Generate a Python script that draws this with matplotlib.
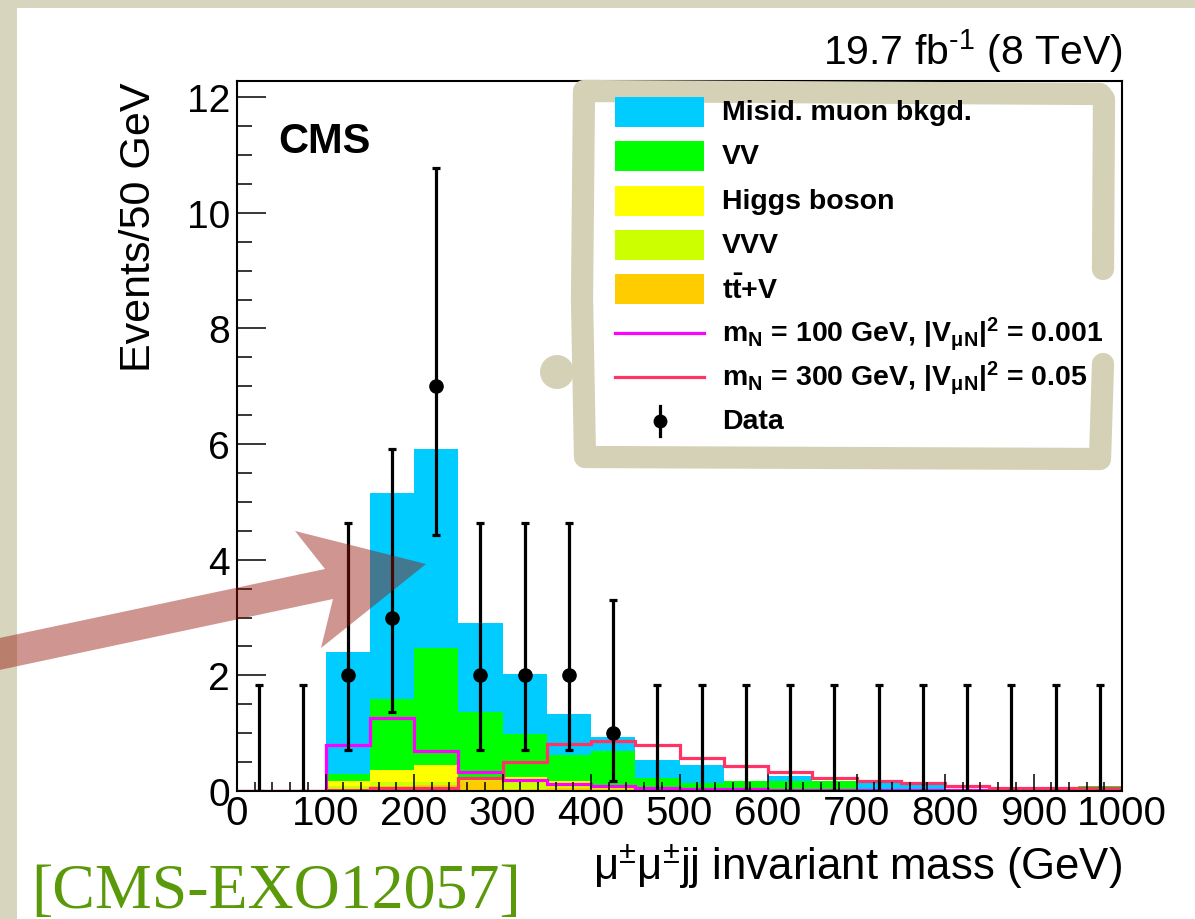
import numpy as np
import matplotlib.pyplot as plt
from matplotlib.patches import Rectangle, Polygon, Circle
from matplotlib.lines import Line2D
from matplotlib.ticker import MultipleLocator

plt.rcParams['font.family'] = ['Liberation Sans', 'DejaVu Sans']
plt.rcParams['mathtext.fontset'] = 'custom'
plt.rcParams['mathtext.rm'] = 'Liberation Sans'
plt.rcParams['mathtext.it'] = 'Liberation Sans:italic'
plt.rcParams['mathtext.bf'] = 'Liberation Sans:bold'
plt.rcParams['mathtext.default'] = 'regular'

# 50 GeV bins, 0 - 1000 GeV
bin_edges = np.arange(0, 1001, 50)
bin_centers = bin_edges[:-1] + 25

# stacked backgrounds (bottom -> top)
ttv   = [0, 0, 0.04, 0.08, 0.10, 0.18, 0.04, 0.05, 0.03, 0.02, 0.01, 0.01, 0.01, 0.01, 0, 0, 0, 0, 0, 0]
vvv   = [0, 0, 0.05, 0.07, 0.05, 0.02, 0.14, 0.07, 0.03, 0.02, 0.01, 0.01, 0.01, 0.01, 0.01, 0, 0, 0, 0, 0]
higgs = [0, 0, 0.09, 0.21, 0.30, 0.04, 0.06, 0.06, 0.04, 0.02, 0.01, 0.01, 0, 0, 0, 0, 0, 0, 0, 0]
vv    = [0, 0, 0.11, 1.23, 2.02, 1.12, 0.75, 0.45, 0.59, 0.16, 0.11, 0.15, 0.15, 0.16, 0.02, 0.01, 0.01, 0.01, 0.01, 0.08]
misid = [0, 0, 2.12, 3.57, 3.45, 1.54, 1.03, 0.70, 0.25, 0.32, 0.31, 0.0, 0.09, 0.0, 0.14, 0.10, 0.03, 0.01, 0.01, 0.0]

# signal hypotheses
sig_mn100 = [0, 0, 0.80, 1.27, 0.70, 0.32, 0.19, 0.12, 0.08, 0.05, 0.03, 0.03, 0.02, 0.02, 0.01, 0.01, 0.01, 0.01, 0.01, 0.01]
sig_mn300 = [0, 0, 0.02, 0.05, 0.05, 0.22, 0.50, 0.81, 0.86, 0.80, 0.57, 0.44, 0.32, 0.22, 0.17, 0.13, 0.09, 0.05, 0.05, 0.05]

# observed events with asymmetric Poisson errors
data_counts = [0, 0, 2, 3, 7, 2, 2, 2, 1, 0, 0, 0, 0, 0, 0, 0, 0, 0, 0, 0]
data_err_lo = [0, 0, 1.29, 1.63, 2.58, 1.29, 1.29, 1.29, 0.83, 0, 0, 0, 0, 0, 0, 0, 0, 0, 0, 0]
data_err_hi = [1.84, 1.84, 2.64, 2.92, 3.77, 2.64, 2.64, 2.64, 2.30, 1.84, 1.84, 1.84, 1.84, 1.84,
               1.84, 1.84, 1.84, 1.84, 1.84, 1.84]

bkg_names = ["t$\\bar{\\mathbf{t}}$+V", "VVV", "Higgs boson", "VV", "Misid. muon bkgd."]
bkg_colors = ['#ffcc00', '#ccff00', '#ffff00', '#00ff00', '#00ccff']
sig_names = ["m$_\\mathbf{N}$ = 100 GeV, |V$_{\\mu\\mathbf{N}}$|$^\\mathbf{2}$ = 0.001",
             "m$_\\mathbf{N}$ = 300 GeV, |V$_{\\mu\\mathbf{N}}$|$^\\mathbf{2}$ = 0.05"]
sig_colors = ['#ff00ff', '#ff3366']

W, H = 1195, 920
fig = plt.figure(figsize=(W / 100, H / 100), dpi=100, facecolor='#d8d5bf')


def px(x, y):
    # picture pixel -> inches from lower left
    return x / 100.0, (H - y) / 100.0


T = fig.dpi_scale_trans

# white page
fig.patches.append(Rectangle(px(17, H), (W - 17) / 100, (H - 9) / 100, transform=T,
                             facecolor='white', edgecolor='none', zorder=-10))

ax = fig.add_axes([237 / W, 1 - 792 / H, (1122 - 237) / W, (792 - 82) / H])
ax.set_facecolor('white')

cum = np.zeros(len(bin_centers))
for vals, col in zip([ttv, vvv, higgs, vv, misid], bkg_colors):
    top = cum + np.array(vals)
    ax.stairs(top, bin_edges, baseline=cum, fill=True, color=col, lw=0)
    cum = top

for vals, col in zip([sig_mn100, sig_mn300], sig_colors):
    ax.stairs(vals, bin_edges, baseline=None, color=col, lw=2.3)

ax.errorbar(bin_centers, data_counts, yerr=[data_err_lo, data_err_hi], fmt='none',
            ecolor='black', elinewidth=2.3, capsize=2.8, capthick=2.3, zorder=5)
data_counts = np.array(data_counts)
nz = data_counts > 0
ax.plot(bin_centers[nz], data_counts[nz], 'o', color='black', ms=9.5, zorder=6)

ax.set_xlim(0, 1000)
ax.set_ylim(0, 12.28)
ax.xaxis.set_major_locator(MultipleLocator(100))
ax.xaxis.set_minor_locator(MultipleLocator(20))
ax.yaxis.set_major_locator(MultipleLocator(2))
ax.yaxis.set_minor_locator(MultipleLocator(0.5))
ax.tick_params(axis='both', which='both', direction='in', top=False, right=False, width=1.1)
ax.tick_params(axis='x', which='major', length=12.5, labelsize=29, pad=2)
ax.tick_params(axis='x', which='minor', length=6.5)
ax.tick_params(axis='y', which='major', length=21, labelsize=28, pad=5)
ax.tick_params(axis='y', which='minor', length=11)
for sp in ax.spines.values():
    sp.set_linewidth(1.5)

ax.set_xlabel("$\\mu^{\\pm}\\mu^{\\pm}$jj invariant mass (GeV)", fontsize=31.5, loc='right')
ax.xaxis.set_label_coords(1.0, -(842 - 792) / 710)
ax.xaxis.label.set_va('top')
ax.set_ylabel("Events/50 GeV", fontsize=31, loc='top')
ax.yaxis.set_label_coords(-(237 - 159) / 885, 1.0)

fig.text(*px(278, 153), "CMS", transform=T, fontsize=30, fontweight='bold', va='baseline')
fig.text(*px(1123, 65), "19.7 fb$^{\\text{-}1}$ (8 TeV)", transform=T, fontsize=29.5,
         ha='right', va='baseline')
fig.text(*px(31, 908), "[CMS-EXO12057]", transform=T, fontsize=46, color='#5a9a0a',
         family=['Liberation Serif', 'DejaVu Serif'], va='baseline')

# hand drawn frame around the legend
frame_col = '#d5d1b6'
frame_x = [1103, 1104, 1100, 584, 582, 585, 1100, 1103]
frame_y = [270, 100, 95, 92, 300, 458, 460, 365]
fig.lines.append(Line2D([x / 100 for x in frame_x], [(H - y) / 100 for y in frame_y],
                        transform=T, color=frame_col, lw=16, solid_capstyle='round',
                        solid_joinstyle='round', zorder=3))
fig.patches.append(Circle(px(557, 373), 0.17, transform=T, facecolor=frame_col,
                          edgecolor='none', zorder=3))

# legend entries
rows = [113, 157, 202, 246, 290, 334, 378, 422]
box_x0, box_x1, text_x = 615, 704, 722
leg_fs = 20.5
for name, col, ry in zip(bkg_names[::-1], bkg_colors[::-1], rows[:5]):
    fig.patches.append(Rectangle(px(box_x0, ry + 15), (box_x1 - box_x0) / 100, 0.30,
                                 transform=T, facecolor=col, edgecolor='none', zorder=4))
    fig.text(*px(text_x, ry), name, transform=T, fontsize=leg_fs, fontweight='bold',
             va='center', zorder=5)
for name, col, ry in zip(sig_names, sig_colors, rows[5:7]):
    x0, y0 = px(box_x0, ry)
    x1, _ = px(box_x1, ry)
    fig.lines.append(Line2D([x0, x1], [y0, y0], transform=T, color=col, lw=2.3, zorder=4))
    fig.text(*px(text_x, ry), name, transform=T, fontsize=leg_fs, fontweight='bold',
             va='center', zorder=5)
xm, ym = px(660, rows[7])
fig.lines.append(Line2D([xm, xm], [ym - 0.15, ym + 0.15], transform=T, color='black',
                        lw=2.3, zorder=4))
fig.lines.append(Line2D([xm], [ym], transform=T, color='black', marker='o', ms=9, zorder=4))
fig.text(*px(text_x, rows[7]), "Data", transform=T, fontsize=leg_fs, fontweight='bold',
         va='center', zorder=5)

# big arrow pointing at the excess
arrow_pts = [(-10, 641), (325, 570), (295, 532), (426, 565), (321, 649), (333, 600), (-10, 673)]
fig.patches.append(Polygon([px(x, y) for x, y in arrow_pts], closed=True, transform=T,
                           facecolor='#96140a', alpha=0.45, edgecolor='none', zorder=6))

fig.savefig('out.png', dpi=100, facecolor=fig.get_facecolor())
